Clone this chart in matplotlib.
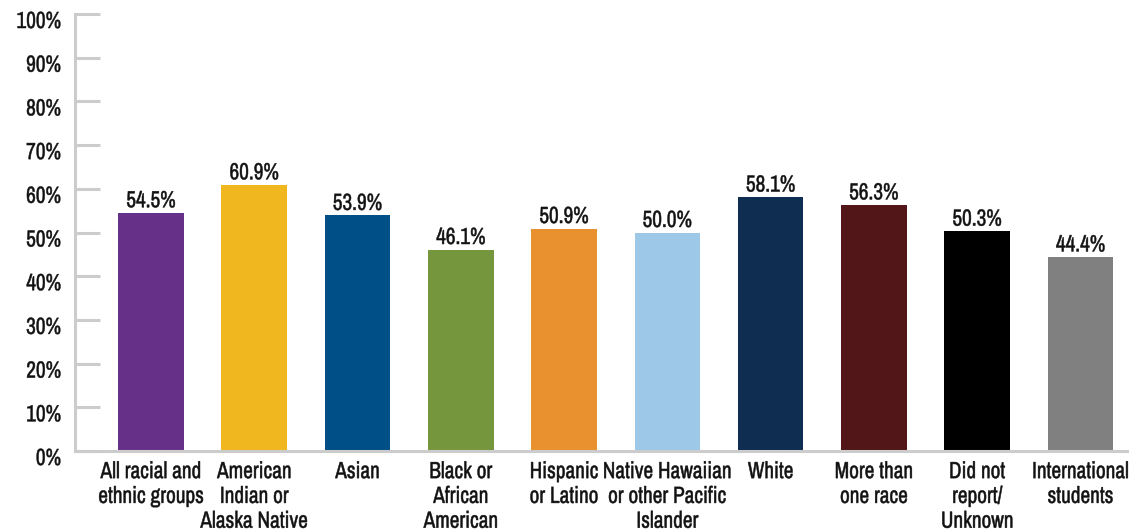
import matplotlib.pyplot as plt
import matplotlib.transforms as mtransforms
from matplotlib import font_manager
from matplotlib.font_manager import FontProperties
from matplotlib.patheffects import AbstractPathEffect

groups = ["All racial and\nethnic groups", "American\nIndian or\nAlaska Native", "Asian",
          "Black or\nAfrican\nAmerican", "Hispanic\nor Latino", "Native Hawaiian\nor other Pacific\nIslander",
          "White", "More than\none race", "Did not\nreport/\nUnknown", "International\nstudents"]
rates = [54.5, 60.9, 53.9, 46.1, 50.9, 50.0, 58.1, 56.3, 50.3, 44.4]
colors = ["#663089", "#F0B81E", "#004F86", "#76963D", "#E8912E",
          "#9DC8E8", "#0E2D51", "#521618", "#000000", "#808080"]
yticks = list(range(0, 101, 10))


# look for a narrow / condensed face, regular weight, upright
def pick_font():
    best = None
    for f in font_manager.fontManager.ttflist:
        narrow = ("Condensed" in f.name or "Narrow" in f.name or
                  str(f.stretch) in ("condensed", "semi-condensed", "extra-condensed", "ultra-condensed")
                  or (isinstance(f.stretch, int) and f.stretch < 500))
        if not narrow or f.style != "normal":
            continue
        w = f.weight if isinstance(f.weight, int) else {"normal": 400, "regular": 400, "book": 400,
                                                         "medium": 500, "bold": 700}.get(str(f.weight), 400)
        score = abs(w - 400)
        if "Roboto" in f.name or "Narrow" in f.name:
            score -= 1000
        if best is None or score < best[0]:
            best = (score, f.fname)
    return best[1] if best else None


class Tall(AbstractPathEffect):
    """Stretch glyphs upward from each line's baseline and thicken them a little."""

    def __init__(self, sy=1.1, lw=0.35):
        super().__init__()
        self.sy, self.lw = sy, lw

    def draw_path(self, renderer, gc, tpath, affine, rgbFace=None):
        aff = mtransforms.Affine2D().scale(1, self.sy) + affine
        g = renderer.new_gc()
        g.copy_properties(gc)
        g.set_linewidth(self.lw)
        if rgbFace is not None:
            g.set_foreground(rgbFace)
        renderer.draw_path(g, tpath, aff, None)
        g.restore()
        renderer.draw_path(gc, tpath, aff, rgbFace)


path = pick_font()
if path:
    fp = FontProperties(fname=path, size=15.3)
else:
    fp = FontProperties(family="DejaVu Sans", size=12.5)
fx = [Tall()]

W, H = 1129, 531
fig = plt.figure(figsize=(W / 100, H / 100), dpi=100)
ax = fig.add_axes([75 / W, (H - 451) / H, (W - 75) / W, (451 - 14) / H])

x = range(len(rates))
ax.bar(x, rates, width=0.635, color=colors)
for i, v in enumerate(rates):
    ax.annotate(f"{v:.1f}%", (i, v), xytext=(0, 4), textcoords="offset points",
                ha="center", va="baseline", fontproperties=fp, color="#111111",
                path_effects=fx)

ax.set_xlim(-0.736, 9.47)
ax.set_ylim(0, 100)
ax.set_yticks(yticks)
ax.set_yticklabels([f"{t}%" for t in yticks], color="#111111")
ax.set_xticks(list(x))
ax.set_xticklabels(groups, color="#111111", linespacing=1.3, va="top")
for lab in ax.get_yticklabels() + ax.get_xticklabels():
    lab.set_fontproperties(fp)
    lab.set_path_effects(fx)

ax.tick_params(axis="y", direction="in", length=18, width=2.2, color="#cccccc", pad=10)
ax.tick_params(axis="x", length=0, pad=8)
# nudge y labels slightly below their ticks
off = mtransforms.ScaledTranslation(0, -6 / 100, fig.dpi_scale_trans)
for lab in ax.get_yticklabels():
    lab.set_transform(lab.get_transform() + off)

for s in ["top", "right"]:
    ax.spines[s].set_visible(False)
for s in ["left", "bottom"]:
    ax.spines[s].set_color("#cccccc")
    ax.spines[s].set_linewidth(2.2)

fig.savefig("out.png", dpi=100)
